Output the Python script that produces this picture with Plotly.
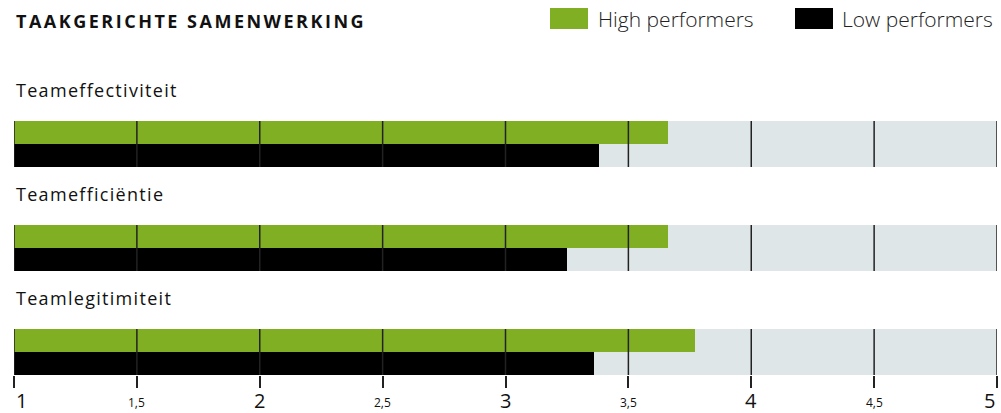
import plotly.graph_objects as go

# Data
categories = ["Teameffectiviteit", "Teamefficiëntie", "Teamlegitimiteit"]
high_performers = [3.66, 3.66, 3.77]
low_performers = [3.38, 3.25, 3.36]
scale_min, scale_max = 1, 5
tick_values = [1, 1.5, 2, 2.5, 3, 3.5, 4, 4.5, 5]
tick_labels = ["1", "1,5", "2", "2,5", "3", "3,5", "4", "4,5", "5"]
title_text = "TAAKGERICHTE SAMENWERKING"

GREEN = "#80AF24"
BLACK = "#000000"
TRACK = "#DFE6E8"
GRID = "#222222"
FONT = "Open Sans"

half = 0.2212  # height of one bar in y units
pos = list(range(len(categories)))

# plot area in pixels (used to place paper-referenced decorations)
W, H = 1001, 413
ML, MR, MT, MB = 14, 4, 100, 38
PW, PH = W - ML - MR, H - MT - MB


def px_x(px):
    return (px - ML) / PW


def px_y(py):
    return (H - MB - py) / PH


def spaced(text, px):
    return f'<span style="letter-spacing:{px}px">{text}</span>'


fig = go.Figure()

# light track behind each pair of bars
fig.add_trace(go.Bar(
    y=pos, x=[scale_max - scale_min] * len(pos), base=scale_min,
    orientation="h", width=2 * half, offset=-half,
    marker=dict(color=TRACK, line=dict(width=0)),
    hoverinfo="skip", showlegend=False,
))
fig.add_trace(go.Bar(
    y=pos, x=[v - scale_min for v in high_performers], base=scale_min,
    orientation="h", width=half, offset=-half,
    marker=dict(color=GREEN, line=dict(width=0)),
    name="High performers", showlegend=False,
))
fig.add_trace(go.Bar(
    y=pos, x=[v - scale_min for v in low_performers], base=scale_min,
    orientation="h", width=half, offset=0,
    marker=dict(color=BLACK, line=dict(width=0)),
    name="Low performers", showlegend=False,
))

shapes = []
annotations = []

# vertical grid lines crossing each pair of bars
for i in pos:
    for t in tick_values:
        shapes.append(dict(
            type="line", xref="x", yref="y", x0=t, x1=t,
            y0=i - half, y1=i + half,
            line=dict(color=GRID, width=1.5), layer="above",
        ))
    annotations.append(dict(
        text=spaced(categories[i], 1.3), xref="paper", yref="paper",
        x=0, y=px_y(90 + 104 * i),
        xanchor="left", yanchor="middle", showarrow=False,
        font=dict(family=FONT, size=18, color="#111111", weight=500),
    ))

# tick labels under the scale
for t, lab in zip(tick_values, tick_labels):
    big = float(t).is_integer()
    anchor = "left" if t == scale_min else ("right" if t == scale_max else "center")
    annotations.append(dict(
        text=lab, xref="x", yref="paper", x=t, y=0,
        xanchor=anchor, yanchor="top", yshift=-10 if big else -17,
        showarrow=False,
        font=dict(family=FONT, size=20 if big else 12, color="#111111"),
    ))

# title, letter-spaced
annotations.append(dict(
    text=spaced(title_text, 2.5),
    xref="paper", yref="paper", x=0, y=px_y(21), xanchor="left", yanchor="middle",
    showarrow=False,
    font=dict(family=FONT, size=18, color="#111111", weight="bold"),
))

# legend swatches and labels
legend_items = [("High performers", GREEN, 550, 596), ("Low performers", BLACK, 795, 840)]
for label, color, sx, tx in legend_items:
    shapes.append(dict(
        type="rect", xref="paper", yref="paper",
        x0=px_x(sx), x1=px_x(sx + 38),
        y0=px_y(29), y1=px_y(8),
        fillcolor=color, line=dict(width=0),
    ))
    annotations.append(dict(
        text=label, xref="paper", yref="paper", x=px_x(tx),
        y=px_y(19), xanchor="left", yanchor="middle",
        showarrow=False, font=dict(family=FONT, size=21, color="#222222", weight=300),
    ))

fig.update_layout(
    width=W, height=H,
    margin=dict(l=ML, r=MR, t=MT, b=MB),
    paper_bgcolor="white", plot_bgcolor="white",
    barmode="overlay", bargap=0,
    shapes=shapes, annotations=annotations,
    showlegend=False,
    xaxis=dict(
        range=[scale_min, scale_max], showgrid=False, zeroline=False,
        showline=False, showticklabels=False,
        tickvals=tick_values, ticks="outside", ticklen=12,
        tickwidth=1.5, tickcolor=GRID, fixedrange=True,
    ),
    yaxis=dict(
        range=[2.2212, -0.4231], showgrid=False, zeroline=False,
        showline=False, showticklabels=False, fixedrange=True,
    ),
)

fig.write_html("out.html")
